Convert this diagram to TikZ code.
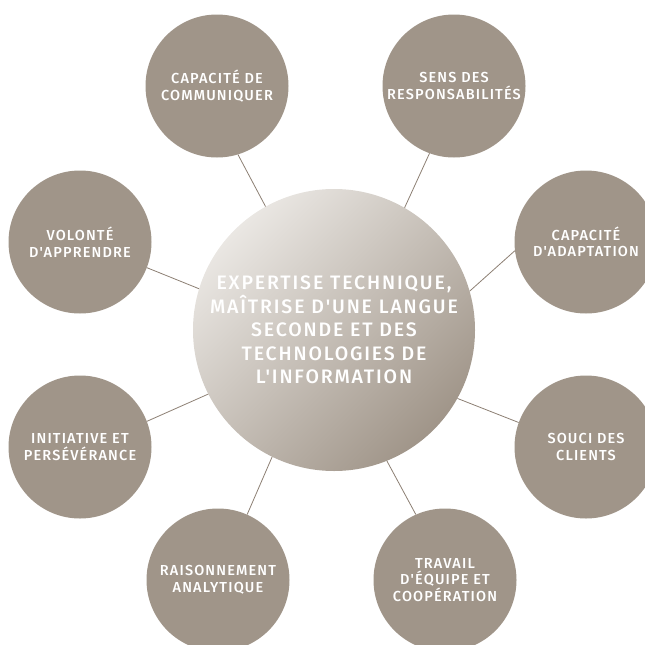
\documentclass[tikz,border=0pt]{standalone}
\usepackage{fontspec}
\setmainfont{Fira Sans}[UprightFont={* Medium}, Ligatures=TeXOff]
\newfontfamily\hubfont{Fira Sans}[UprightFont={* Medium}, Ligatures=TeXOff, LetterSpace=9.5]
\newfontfamily\skillfont{Fira Sans}[UprightFont={* Medium}, Ligatures=TeXOff, LetterSpace=8]
\definecolor{taupe}{HTML}{A09589}
\definecolor{pale}{HTML}{EAE7E3}
\definecolor{spokecol}{HTML}{8C7F73}
\tikzset{
  skill/.style={circle, fill=taupe, minimum size=143pt, inner sep=0pt,
    text=white, align=center, font=\skillfont\fontsize{14.5}{16.5}\selectfont},
  hub/.style={circle, minimum size=282pt, inner sep=0pt, text=white,
    align=center, font=\hubfont\fontsize{19.5}{23.5}\selectfont,
    top color=pale, bottom color=taupe, shading angle=45},
  spoke/.style={draw=spokecol, line width=0.8pt}
}
\begin{document}
\begin{tikzpicture}[x=1pt,y=-1pt]
  \clip (0,0) rectangle (645,645);
  \node[hub] (hub) at (334,330)
    {EXPERTISE TECHNIQUE,\\MAÎTRISE D'UNE LANGUE\\SECONDE ET DES\\TECHNOLOGIES DE\\L'INFORMATION};
  \node[skill] (comm) at (217,86) {CAPACITÉ DE\\COMMUNIQUER};
  \node[skill] (resp) at (454,86) {SENS DES\\RESPONSABILITÉS};
  \node[skill] (adapt) at (586,242) {CAPACITÉ\\D'ADAPTATION};
  \node[skill] (souci) at (586,447) {SOUCI DES\\CLIENTS};
  \node[skill] (equipe) at (445,580) {TRAVAIL\\D'ÉQUIPE ET\\COOPÉRATION};
  \node[skill] (raison) at (218,580) {RAISONNEMENT\\ANALYTIQUE};
  \node[skill] (init) at (80,447) {INITIATIVE ET\\PERSÉVÉRANCE};
  \node[skill] (volonte) at (80,242) {VOLONTÉ\\D'APPRENDRE};
  \begin{scope}[spoke]
    \draw (comm.287) -- (hub.119.6);
    \draw (resp.250.6) -- (hub.60.7);
    \draw (adapt.187.4) -- (hub.16.7);
    \draw (souci.160.5) -- (hub.331);
    \draw (equipe.114.8) -- (hub.292.6);
    \draw (raison.66.6) -- (hub.244.8);
    \draw (init.21.7) -- (hub.207.8);
    \draw (volonte.339) -- (hub.163.4);
  \end{scope}
\end{tikzpicture}
\end{document}
